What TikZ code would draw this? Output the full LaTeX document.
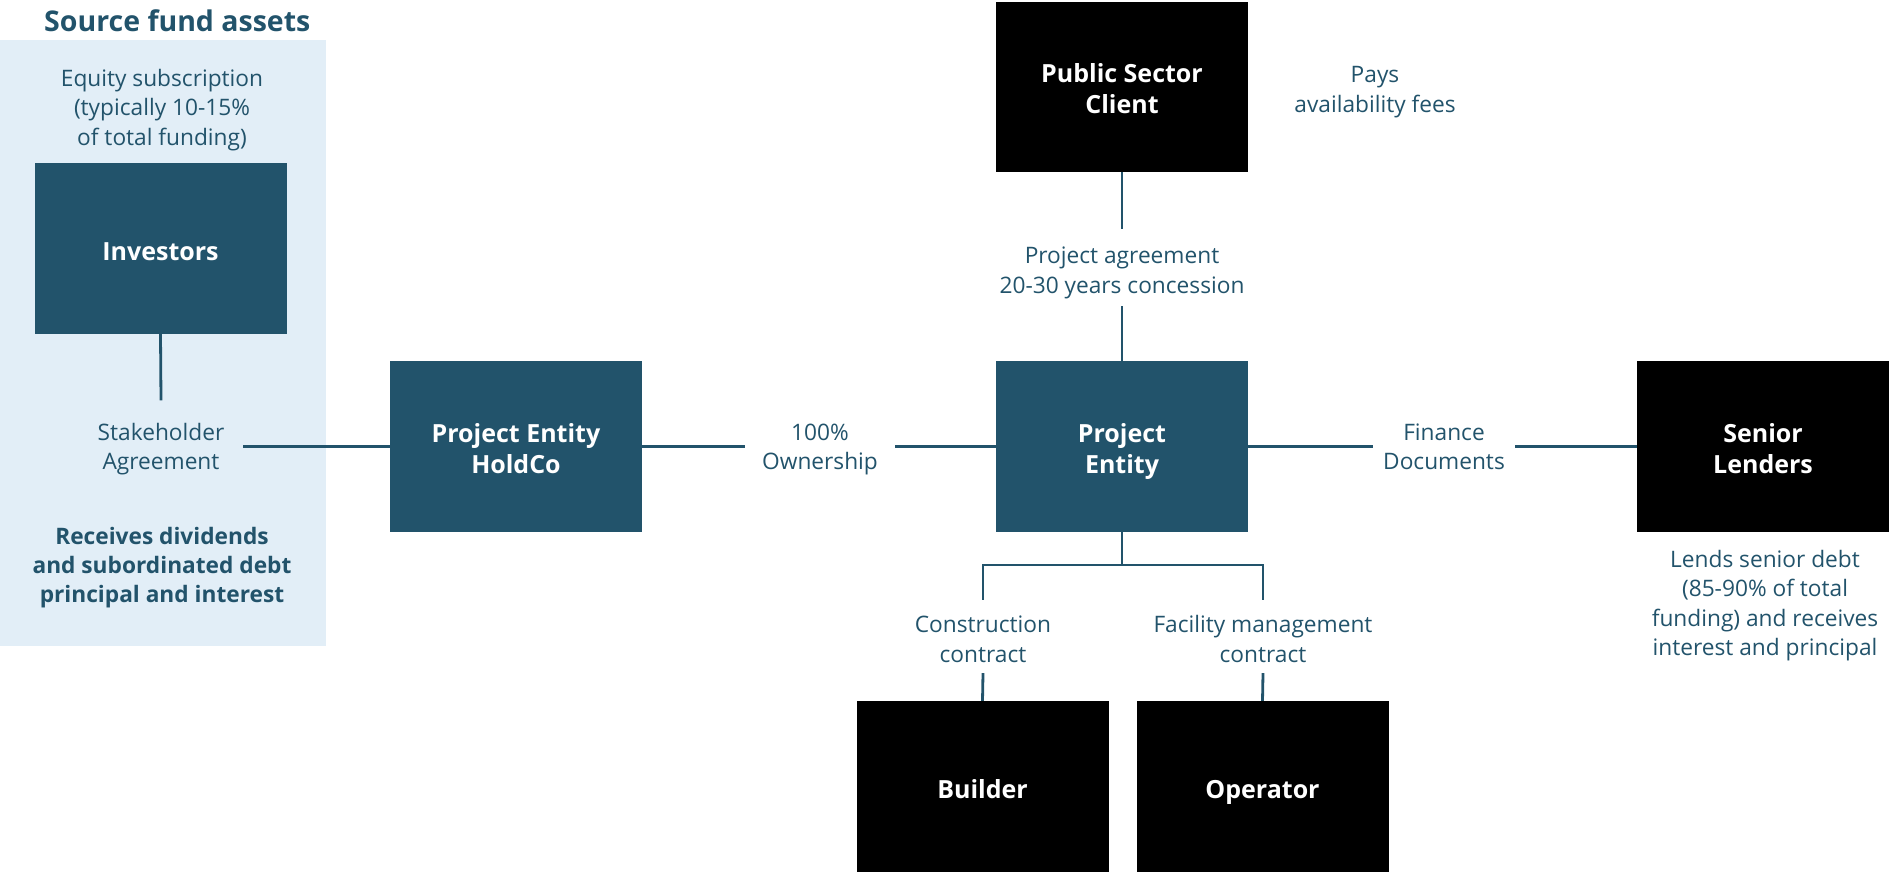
\documentclass[tikz,border=0pt]{standalone}
\usepackage{fontspec}
\setmainfont{Open Sans}
\definecolor{teal}{HTML}{22536B}
\definecolor{panel}{HTML}{E2EEF7}
\newcommand{\tl}[2][-4pt]{\raisebox{#1}[\height][\depth]{\begin{tabular}{@{}c@{}}#2\end{tabular}}}
\tikzset{
  box/.style={rectangle,inner sep=0pt,minimum width=252pt,minimum height=171pt,
    text=white,font=\fontsize{25}{31}\selectfont\bfseries},
  tealbox/.style={box,fill=teal},
  blackbox/.style={box,fill=black},
  lbl/.style={inner sep=0pt,text=teal,font=\fontsize{22.7}{29.5}\selectfont},
  blbl/.style={lbl,font=\fontsize{22.7}{29}\selectfont\bfseries},
  conn/.style={draw=teal,line width=2.8pt}
}
\begin{document}
\begin{tikzpicture}[x=1pt,y=-1pt]
\useasboundingbox (0,0) rectangle (1889,875);
\fill[panel] (0,40) rectangle (326,646);
\node[blbl,font=\fontsize{28.5}{32}\selectfont\bfseries,anchor=west] (title) at (44,20) {\tl[-5pt]{Source fund assets}};
\node[lbl] (equity) at (162,106) {\tl[-3.6pt]{Equity subscription\\(typically 10-15\%\\of total funding)}};
\node[blbl] (recv) at (162,564) {\tl[-3.6pt]{Receives dividends\\and subordinated debt\\principal and interest}};
\node[lbl] (pays) at (1375,88) {\tl[-3.6pt]{Pays\\availability fees}};
\node[lbl] (lends) at (1765,602) {\tl[-3.6pt]{Lends senior debt\\(85-90\% of total\\funding) and receives\\interest and principal}};

\node[tealbox] (inv) at (160.5,248.5) {\tl[-6pt]{Investors}};
\node[tealbox] (hold) at (516,446.5) {\tl[-5pt]{Project Entity\\HoldCo}};
\node[tealbox] (pe) at (1122,446.5) {\tl[-5pt]{Project\\Entity}};
\node[blackbox,minimum height=170pt] (psc) at (1122,87) {\tl[-5pt]{Public Sector\\Client}};
\node[blackbox] (sl) at (1763,446.5) {\tl[-5pt]{Senior\\Lenders}};
\node[blackbox] (bld) at (982.5,786.5) {\tl[-6pt]{Builder}};
\node[blackbox] (op) at (1262.5,786.5) {\tl[-6pt]{Operator}};

\node[lbl,minimum width=164pt,minimum height=92pt] (stake) at (161,446.5) {\tl[-2.5pt]{Stakeholder\\Agreement}};
\node[lbl,minimum width=150pt,minimum height=60pt] (own) at (820,446.5) {\tl[-2.5pt]{100\%\\Ownership}};
\node[lbl,minimum width=142pt,minimum height=60pt] (fin) at (1444,446.5) {\tl[-2.5pt]{Finance\\Documents}};
\node[lbl,minimum height=77pt] (pa) at (1122,267.5) {\tl[-5pt]{Project agreement\\20-30 years concession}};
\node[lbl,minimum height=73pt] (cons) at (983,636.5) {\tl[-5pt]{Construction\\contract}};
\node[lbl,minimum height=73pt] (fm) at (1263,636.5) {\tl[-5pt]{Facility management\\contract}};
\coordinate (bj) at (1122,565);

\draw[conn] (inv.south) -- (stake.north);
\draw[conn] (stake.east) -- (hold.west);
\draw[conn] (hold.east) -- (own.west);
\draw[conn] (own.east) -- (pe.west);
\draw[conn] (pe.east) -- (fin.west);
\draw[conn] (fin.east) -- (sl.west);
\draw[conn] (psc.south) -- (pa.north);
\draw[conn] (pa.south) -- (pe.north);
\draw[conn] (pe.south) -- (bj);
\draw[conn] (cons.north) |- (bj) -| (fm.north);
\draw[conn] (cons.south) -- (bld.north);
\draw[conn] (fm.south) -- (op.north);
\end{tikzpicture}
\end{document}
